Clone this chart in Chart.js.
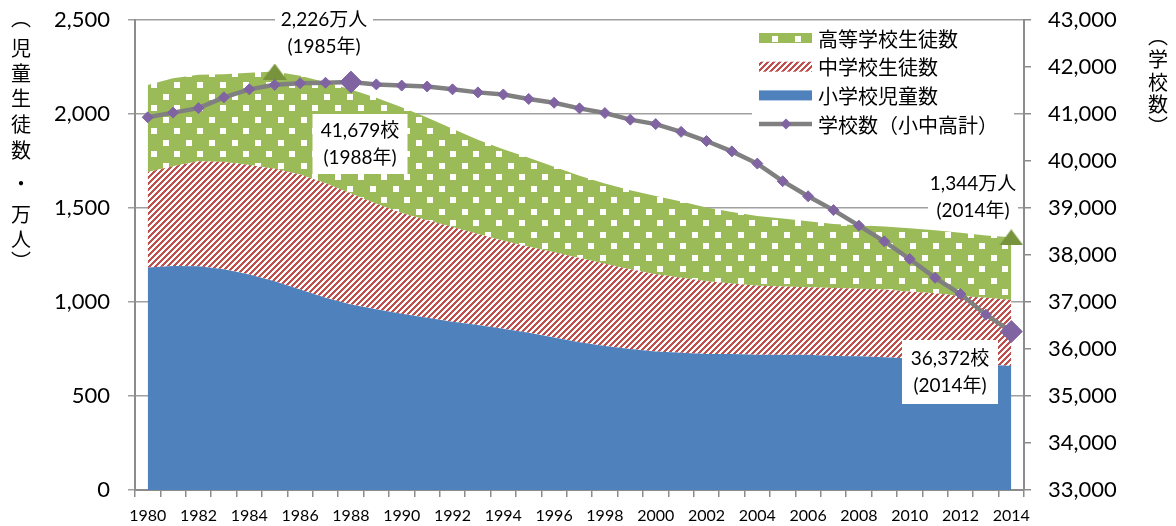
<!DOCTYPE html>
<html>
<head>
<meta charset="utf-8">
<script src="https://cdn.jsdelivr.net/npm/chart.js@4.4.1/dist/chart.umd.min.js"></script>
<style>
  html, body { margin: 0; padding: 0; background: #fff; }
  #wrap { width: 1176px; height: 526px; position: relative; }
</style>
</head>
<body>
<div id="wrap"><canvas id="chart" width="1176" height="526"></canvas></div>
<script>
// ---- data (students in 万人, schools in 校) ----
const years = ['1980','1981','1982','1983','1984','1985','1986','1987','1988','1989',
               '1990','1991','1992','1993','1994','1995','1996','1997','1998','1999',
               '2000','2001','2002','2003','2004','2005','2006','2007','2008','2009',
               '2010','2011','2012','2013','2014'];

const elementary = [1183,1192,1190,1174,1146,1110,1067,1023,987,961,
                    937,916,895,877,858,837,811,786,766,750,
                    737,730,724,723,720,720,719,713,712,706,
                    699,689,677,668,660];

const juniorHigh = [509,530,559,571,583,599,611,608,590,562,
                    537,519,504,485,468,457,453,448,438,424,
                    410,399,386,375,366,363,360,361,359,360,
                    356,357,355,354,350];

const seniorHigh = [462,468,460,466,490,517,526,538,553,564,
                    562,546,522,501,486,473,455,437,426,421,
                    417,406,393,381,372,361,350,341,337,335,
                    337,335,336,332,334];

const schools = [40930,41030,41125,41355,41525,41620,41655,41665,41679,41630,
                 41605,41585,41525,41460,41415,41320,41240,41120,41020,40880,
                 40785,40620,40425,40205,39945,39570,39250,38955,38625,38290,
                 37915,37515,37170,36730,36372];

// highlighted totals
const studentMarkYears = ['1985', '2014'];
const studentMarks = [2226, 1344];
const schoolMarkYears = ['1988', '2014'];
const schoolMarks = [41679, 36372];

const seriesNames = ['小学校児童数', '中学校生徒数', '高等学校生徒数', '学校数（小中高計）'];
const leftTitle = '︵児童生徒数・万人︶';
const rightTitle = '︵学校数︶';

// ---- fills ----
const BLUE = '#4F81BD', RED = '#C0504D', GREEN = '#9BBB59', OLIVE = '#77933C', PURPLE = '#8064A2', GREY = '#808080';

function makeDots() {
  const c = document.createElement('canvas');
  c.width = 23; c.height = 23;
  const g = c.getContext('2d');
  g.fillStyle = GREEN; g.fillRect(0, 0, 23, 23);
  g.fillStyle = '#fff';
  g.fillRect(2, 2, 6, 6);
  g.fillRect(13, 13, 6, 6);
  return g.createPattern(c, 'repeat');
}
function makeHatch() {
  const n = 6;
  const c = document.createElement('canvas');
  c.width = n; c.height = n;
  const g = c.getContext('2d');
  g.fillStyle = '#fff'; g.fillRect(0, 0, n, n);
  g.fillStyle = RED;
  for (let x = 0; x < n; x++) for (let y = 0; y < n; y++) {
    if ((x + y) % n < 3) g.fillRect(x, y, 1, 1);
  }
  return g.createPattern(c, 'repeat');
}
function makeTriangle() {
  const c = document.createElement('canvas');
  c.width = 24; c.height = 16;
  const g = c.getContext('2d');
  g.fillStyle = OLIVE;
  g.beginPath(); g.moveTo(12, 0); g.lineTo(24, 16); g.lineTo(0, 16); g.closePath(); g.fill();
  return c;
}
const dots = makeDots();
const hatch = makeHatch();
const triangle = makeTriangle();

const studentMarkData = years.map(y => {
  const i = studentMarkYears.indexOf(y);
  return i < 0 ? null : studentMarks[i];
});

const fmt = v => Number(v).toLocaleString('en-US');
const NUM_FONT = 'Lato, "Noto Sans CJK JP", sans-serif';
const JP_FONT = '"Noto Sans CJK JP", sans-serif';

// ---- overlay: legend, axis titles, callouts ----
const overlay = {
  id: 'overlay',
  afterDraw(chart) {
    const ctx = chart.ctx;
    ctx.save();

    // axis titles, written vertically
    ctx.fillStyle = '#000';
    ctx.textAlign = 'center';
    ctx.textBaseline = 'middle';
    ctx.font = '20px ' + JP_FONT;
    const leftY = [18, 48, 73, 98, 124, 150, 183, 214, 239, 261];
    [...leftTitle].forEach((ch, i) => ctx.fillText(ch, 21, leftY[i]));
    const rightY = [36, 59, 82, 104, 126];
    [...rightTitle].forEach((ch, i) => ctx.fillText(ch, 1158, rightY[i]));

    // legend
    ctx.fillStyle = '#fff';
    ctx.fillRect(752, 24, 262, 116);
    const ds = chart.data.datasets;
    const rows = [2, 1, 0, 3];
    rows.forEach((di, r) => {
      const cy = 38 + r * 28.7;
      if (di < 3) {
        ctx.fillStyle = ds[di].backgroundColor;
        ctx.fillRect(759, cy - 5, 53, 10);
      } else {
        ctx.strokeStyle = GREY; ctx.lineWidth = 4.5;
        ctx.beginPath(); ctx.moveTo(759, cy); ctx.lineTo(812, cy); ctx.stroke();
        ctx.fillStyle = PURPLE;
        ctx.beginPath(); ctx.moveTo(786 - 5.5, cy); ctx.lineTo(786, cy - 5.5);
        ctx.lineTo(786 + 5.5, cy); ctx.lineTo(786, cy + 5.5); ctx.closePath(); ctx.fill();
      }
      ctx.fillStyle = '#000';
      ctx.font = '20px ' + JP_FONT;
      ctx.textAlign = 'left';
      ctx.fillText(ds[di].label, 818, cy + 1);
    });

    // callouts
    ctx.font = '19px ' + NUM_FONT;
    ctx.textAlign = 'center';
    function callout(lines, cx, cy, w, h) {
      ctx.fillStyle = '#fff';
      ctx.fillRect(cx - w / 2, cy - h / 2, w, h);
      ctx.fillStyle = '#000';
      lines.forEach((t, i) => ctx.fillText(t, cx, cy + (i - (lines.length - 1) / 2) * 27));
    }
    callout([fmt(studentMarks[0]) + '万人', '(' + studentMarkYears[0] + '年)'], 324, 33, 98, 50);
    callout([fmt(schoolMarks[0]) + '校', '(' + schoolMarkYears[0] + '年)'], 360, 144, 95, 60);
    callout([fmt(studentMarks[1]) + '万人', '(' + studentMarkYears[1] + '年)'], 973, 197, 90, 52);
    callout([fmt(schoolMarks[1]) + '校', '(' + schoolMarkYears[1] + '年)'], 950, 372, 96, 64);

    ctx.restore();
  }
};

// vertical axes: fixed width, no extra room above/below for tick labels
const fitVertical = w => s => { s.width = w; s.paddingTop = 0; s.paddingBottom = 0; };

new Chart(document.getElementById('chart'), {
  type: 'line',
  data: {
    labels: years,
    datasets: [
      { label: seriesNames[0], data: elementary, yAxisID: 'y', stack: 'students', order: 1,
        fill: 'origin', backgroundColor: BLUE, borderColor: 'transparent', borderWidth: 0, pointRadius: 0 },
      { label: seriesNames[1], data: juniorHigh, yAxisID: 'y', stack: 'students', order: 1,
        fill: '-1', backgroundColor: hatch, borderColor: 'transparent', borderWidth: 0, pointRadius: 0 },
      { label: seriesNames[2], data: seniorHigh, yAxisID: 'y', stack: 'students', order: 1,
        fill: '-1', backgroundColor: dots, borderColor: 'transparent', borderWidth: 0, pointRadius: 0 },
      { label: seriesNames[3], data: schools, yAxisID: 'y1', order: 0, fill: false,
        borderColor: GREY, borderWidth: 4.5,
        pointStyle: 'rectRot',
        pointRadius: c => schoolMarkYears.includes(years[c.dataIndex]) ? 11 : 5.5,
        pointBackgroundColor: PURPLE, pointBorderColor: PURPLE, pointBorderWidth: 1 },
      { label: 'totals', data: studentMarkData, yAxisID: 'y', stack: 'marks', order: 0,
        showLine: false, fill: false, pointStyle: triangle, pointRadius: 12 }
    ]
  },
  options: {
    responsive: false,
    animation: false,
    events: [],
    layout: { autoPadding: false, padding: { top: 20, left: 0, right: 0, bottom: 0 } },
    plugins: { legend: { display: false }, tooltip: { enabled: false } },
    scales: {
      x: {
        offset: true,
        grid: { offset: true, drawOnChartArea: false, tickLength: 7, color: '#8c8c8c', lineWidth: 1.5 },
        border: { color: '#8c8c8c', width: 2 },
        ticks: { autoSkip: false, maxRotation: 0, padding: 9, color: '#000',
                 font: { family: NUM_FONT, size: 16 },
                 callback: (v, i) => (i % 2 === 0 ? years[i] : '') },
        afterFit: s => { s.height = 36; s.paddingLeft = 0; s.paddingRight = 0; }
      },
      y: {
        position: 'left', stacked: true, min: 0, max: 2500,
        grid: { color: '#a0a0a0', lineWidth: 1.5, tickLength: 7 },
        border: { color: '#8c8c8c', width: 2 },
        ticks: { stepSize: 500, padding: 18, color: '#000', font: { family: NUM_FONT, size: 22 },
                 callback: v => fmt(v) },
        afterFit: fitVertical(135)
      },
      y1: {
        position: 'right', min: 33000, max: 43000,
        grid: { drawOnChartArea: false, tickLength: 7, color: '#8c8c8c', lineWidth: 1.5 },
        border: { color: '#8c8c8c', width: 2 },
        ticks: { stepSize: 1000, padding: 17, color: '#000', font: { family: NUM_FONT, size: 22 },
                 callback: v => fmt(v) },
        afterFit: fitVertical(152)
      }
    }
  },
  plugins: [overlay]
});
</script>
</body>
</html>
